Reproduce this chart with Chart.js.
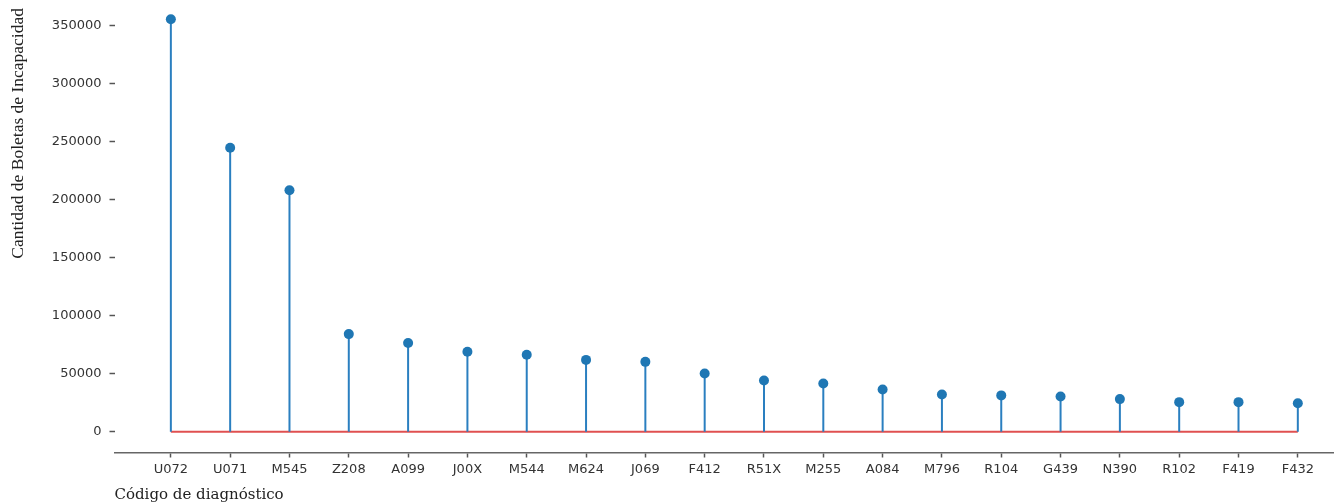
<!DOCTYPE html>
<html>
<head>
<meta charset="utf-8">
<script src="https://cdn.jsdelivr.net/npm/chart.js@4.4.1/dist/chart.umd.min.js"></script>
<style>
html,body{margin:0;padding:0;background:#fff;overflow:hidden;}
#wrap{width:1334px;height:504px;position:relative;}
</style>
</head>
<body>
<div id="wrap"><canvas id="c" width="1334" height="504"></canvas></div>
<script>
const categories = ["U072","U071","M545","Z208","A099","J00X","M544","M624","J069","F412","R51X","M255","A084","M796","R104","G439","N390","R102","F419","F432"];
const values = [355500,244800,208100,84200,76500,69000,66400,62000,60300,50300,44300,41700,36500,32200,31400,30500,28200,25600,25600,24700];
const yTicks = [0,50000,100000,150000,200000,250000,300000,350000];
const xTitle = "Código de diagnóstico";
const yTitle = "Cantidad de Boletas de Incapacidad";

const stemData = [];
values.forEach((v,i)=>{ stemData.push({x:i,y:0},{x:i,y:v},{x:i,y:null}); });
const markerData = values.map((v,i)=>({x:i,y:v}));
const baseData = [{x:0,y:0},{x:categories.length-1,y:0}];

const tickFont = {family:"DejaVu Sans", size:13};
const zeroPad = (s)=>{ s.paddingTop=0; s.paddingBottom=0; s.paddingLeft=0; s.paddingRight=0; };

new Chart(document.getElementById('c'), {
  type:'line',
  data:{datasets:[
    {data:baseData, borderColor:'#e05050', borderWidth:2, pointRadius:0, order:3},
    {data:stemData, borderColor:'#2a7fc0', borderWidth:2, pointRadius:0, spanGaps:false, order:2},
    {data:markerData, showLine:false, pointRadius:5, pointHoverRadius:5, pointBackgroundColor:'#1f77b4', pointBorderWidth:0, order:1}
  ]},
  options:{
    responsive:false, animation:false,
    layout:{autoPadding:false, padding:{left:0,right:0,top:8,bottom:0}},
    plugins:{legend:{display:false}, tooltip:{enabled:false}},
    scales:{
      x:{type:'linear', min:-0.95, max:19.61,
        afterBuildTicks:(s)=>{ s.ticks = categories.map((c,i)=>({value:i})); },
        ticks:{callback:(v)=>categories[v], font:tickFont, color:'#333', padding:4, maxRotation:0, autoSkip:false},
        grid:{drawOnChartArea:false, drawTicks:true, tickLength:5, color:'#555', tickWidth:1.5},
        border:{display:true, color:'#666', width:1.5},
        title:{display:true, text:xTitle, align:'start', font:{family:"DejaVu Serif", size:15}, color:'#222', padding:{top:3,bottom:0}},
        afterFit:(s)=>{ s.height = 51.5; zeroPad(s); }
      },
      y:{type:'linear', min:-17800, max:365200,
        afterBuildTicks:(s)=>{ s.ticks = yTicks.map(v=>({value:v})); },
        ticks:{font:tickFont, color:'#333', padding:8, callback:(v)=>String(v)},
        grid:{drawOnChartArea:false, drawTicks:true, tickLength:5, color:'#555', tickWidth:1.5},
        border:{display:false},
        title:{display:true, text:yTitle, align:'end', font:{family:"Liberation Serif", size:17.5}, color:'#222', padding:{top:8,bottom:0}},
        afterFit:(s)=>{ s.width = 114.5; zeroPad(s); }
      }
    }
  }
});
</script>
</body>
</html>
